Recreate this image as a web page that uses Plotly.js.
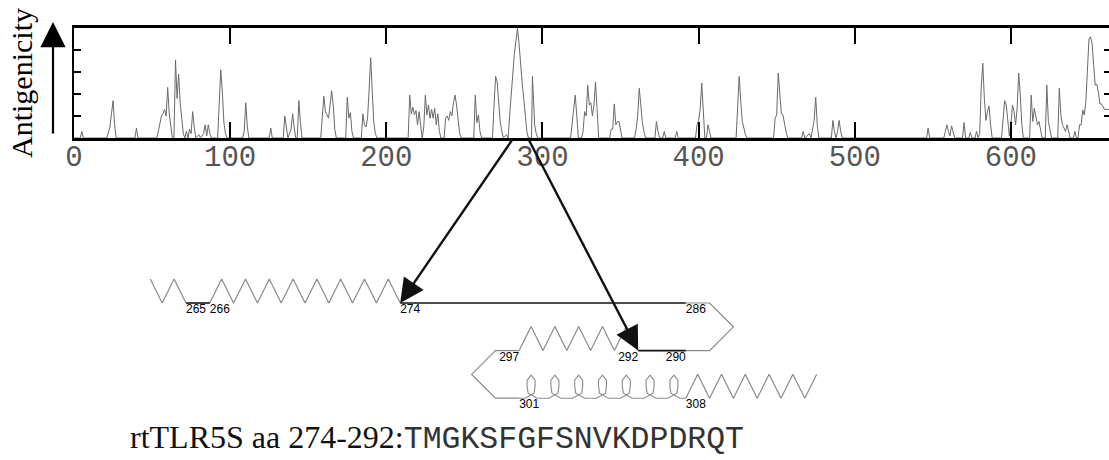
<!DOCTYPE html>
<html><head><meta charset="utf-8">
<script src="https://cdn.plot.ly/plotly-3.0.1.min.js"></script>
<style>html,body{margin:0;padding:0;overflow:hidden;background:#fff}#chart{width:1111px;height:460px}</style>
</head><body><div id="chart"></div>
<script>
// ---------------- DATA ----------------
// Antigenicity profile of rtTLR5S (vertices)
const residue = [
 0,4,5,6,
 21,23,24,25,26,27,
 39,40,41,
 53,54,55,56,57,58,59,60,61,62,63,
 64,65,66,67,68,69,70,71,
 72,73,74,75,76,77,78,
 80,81,83,84,85,86,87,88,
 92,93,94,95,96,97,98,
 108,109,110,111,112,
 125,126,127,
 134,135,136,137,139,140,141,142,143,144,145,146,
 158,159,160,161,162,163,164,165,166,167,168,
 174,175,176,177,178,179,
 184,185,186,187,188,189,190,191,192,193,194,
 214,215,216,217,218,219,220,221,222,223,224,225,226,227,228,229,230,231,232,233,234,235,
 237,238,239,240,241,242,243,244,245,246,247,248,
 256,257,258,259,260,261,
 268,269,270,271,272,273,274,275,277,278,
 279,280,281,282,283,284,285,286,287,288,289,290,291,
 293,293.6,294.5,295,296,297,
 318,319,320,321,322,323,
 325,326,327,328,329,330,331,332,333,334,335,336,
 343,344,345,346,347,348,349,350,351,
 359,360,361,362,363,364,365,366,
 372,373,374,375,
 377,378,379,
 385,386,387,
 398,399,400,401,402,403,404,405,406,407,408,
 424,425,426,427,428,429,430,431,
 448,449,450,451,452,453,454,455,456,457,
 466,467,468,471,472,474,475,476,477,
 485,486,487,488,489,490,491,492,
 546,547,548,
 557,558,559,560,561,562,563,564,
 569,570,571,573,574,575,577,578,579,
 580,581,582,583,584,585,586,587,588,
 594,595,596,597,598,599,600,601,602,603,604,605,606,607,608,
 612,613,614,615,616,617,618,619,620,
 622,623,624,625,626,
 630,631,632,633,634,635,636,637,638,
 640,641,642,643,
 644,645,646,647,648,649,650,651,652,653,654,655,656,657,658,660,663
];
const antigenicity = [
 0,0,0.3,0,
 0,0.5,1.1,1.7,0.6,0,
 0,0.45,0,
 0,0.3,0.7,1.0,1.1,1.3,1.0,2.3,1.1,0.5,0,
 0,3.55,1.8,2.9,1.6,0.8,0.2,0,
 0.3,0,0.4,0.2,1.2,0.5,0,
 0.15,0,0.2,0.6,0.1,0.6,0.2,0,
 0,1.3,3.1,2.1,0.7,0.2,0,
 0,0.3,1.6,0.5,0,
 0,0.45,0,
 0,1.0,0.5,0,0.4,1.1,0.5,0,0,1.7,0.7,0,
 0,1.0,1.9,1.2,1.0,0.9,1.5,2.15,1.5,0.4,0,
 0,1.85,0.9,1.15,0.3,0,
 0,1.1,0.6,0.5,0.9,2.2,3.65,2.1,0.7,0.2,0,
 0,1.95,1.1,1.4,1.05,1.25,0.6,1.2,0.6,0,0.5,1.95,1.05,1.5,0.9,1.3,0.9,1.35,0.6,1.1,0.3,0,
 0,0.9,1.0,0.8,1.2,1.0,1.6,1.95,1.5,0.9,0.2,0,
 0,1.95,0.7,1.05,0.3,0,
 0,1.5,2.8,2.55,1.5,0.7,0.3,0,0.15,0,
 1.05,2.1,3.2,3.8,4.4,5.0,4.3,3.2,2.5,1.8,1.05,0.3,0,
 0,2.8,1.6,0.6,0.2,0,
 0,0.6,1.2,1.95,1.0,0,
 0,0.3,1.2,1.0,2.4,1.5,1.6,1.0,1.5,2.55,1.3,0,
 0,0.4,0.4,1.55,0.6,0.75,0.75,0.3,0,
 0,0.4,1.0,2.26,1.5,0.7,0.3,0,
 0,0.75,0.3,0,
 0,0.3,0,
 0,0.3,0,
 0,0.6,0.8,1.3,2.5,1.2,0,0,0.6,0.3,0,
 0,1.65,2.8,1.65,0.75,0.45,0.15,0,
 0,0.9,1.05,2.95,1.95,1.1,1.05,0.6,0.3,0,
 0,0.3,0,0.2,0,0.8,1.85,0.6,0,
 0,0.8,0.3,0,0.3,0.8,0.3,0,
 0,0.45,0,
 0,0.3,0.6,0.3,0.1,0.55,0.2,0,
 0,0.7,0,0,0.25,0,0,0.3,0,
 0.2,2.3,3.4,1.8,0.8,1.2,1.45,0.6,0,
 0,0.9,1.7,1.5,0.6,0.1,0.6,1.5,1.2,0.6,1.35,2.95,1.95,0.6,0,
 0,1.95,0.75,1.35,1.05,0.6,0.75,0.3,0,
 0,2.4,0.75,0.3,0,
 0,2.26,1.05,0.6,0.45,0.3,0.6,0.3,0,
 0,0.3,0,0,
 0.6,0.6,1.27,1.05,1.65,3.3,4.5,4.6,4.3,3.3,2.4,2.45,2.1,1.55,1.55,1.3,1.3
];
const xTickVals = [0,100,200,300,400,500,600];
const xTickText = ['0','100','200','300','400','500','600'];
const yTickVals = [1,2,3,4];
const yTitle = 'Antigenicity';

// Secondary structure around the epitope (residue ranges)
const helixSegments = [[263.5,265],[266,274],[292,297],[308,313.5]];
const darkCoilSegments = [[265,266],[274,286],[290,292]];
const greyCoilSegments = [[286,290],[297,301]];
const loopSegments = [[301,308]];
const labelResidues = [265,266,274,286,290,292,297,301,308];
const arrowFromProfile = [281,291];
const arrowToStructure = [274,292];
const peptideLabel = 'rtTLR5S aa 274-292:';
const peptideSeq = 'TMGKSFGFSNVKDPDRQT';

// ---------------- LAYOUT HELPERS ----------------
const W = 1111, H = 460, L = 74, PT = 28, PB = 138;
const pxPerRes = 1.5615;
const xMax = (W - L) / pxPerRes;
const S = {x0: 186, r0: 265, y0: 303, d: 23.8, amp: 24};
const xA = S.x0 + (287 - S.r0) * S.d;   // end of first row
const xB = xA - (298 - 289) * S.d;      // end of second row
function pos(r) {
  const d = S.d;
  if (r <= 287) return [S.x0 + (r - S.r0) * d, S.y0];
  if (r <= 288) { const t = r - 287; return [xA + t * d, S.y0 + t * d]; }
  if (r <= 289) { const t = r - 288; return [xA + d - t * d, S.y0 + d + t * d]; }
  if (r <= 298) return [xA - (r - 289) * d, S.y0 + 2 * d];
  if (r <= 299) { const t = r - 298; return [xB - t * d, S.y0 + 2 * d + t * d]; }
  if (r <= 300) { const t = r - 299; return [xB - d + t * d, S.y0 + 3 * d + t * d]; }
  return [xB + (r - 300) * d, S.y0 + 4 * d];
}
function coilPath(a, b) {
  const xs = [], ys = [];
  const pts = [a];
  for (let k = Math.floor(a) + 1; k < b; k++) pts.push(k);
  pts.push(b);
  pts.forEach(r => { const p = pos(r); xs.push(p[0]); ys.push(p[1]); });
  return [xs, ys];
}
function helixPath(a, b) {
  const xs = [], ys = [];
  for (let t = a; t <= b + 1e-6; t += 0.5) {
    const p = pos(t);
    const half = Math.abs((t % 1) - 0.5) < 1e-6;
    xs.push(p[0]); ys.push(p[1] - (half ? S.amp : 0));
  }
  return [xs, ys];
}
const loopTpl = [[-11.9,0],[-6,0],[3,-5],[4,-12],[4,-18],[0,-23],[-4,-18],[-4,-12],[-3,-5],[6,0],[11.9,0]];
function loopPath(a, b) {
  const xs = [], ys = [];
  for (let r = a; r < b; r++) {
    const c = pos(r + 0.5);
    loopTpl.forEach(o => { xs.push(c[0] + o[0]); ys.push(c[1] + o[1]); });
    xs.push(null); ys.push(null);
  }
  return [xs, ys];
}
function segTrace(segs, fn, color, width) {
  let xs = [], ys = [];
  segs.forEach(s => { const [x, y] = fn(s[0], s[1]); xs = xs.concat(x, [null]); ys = ys.concat(y, [null]); });
  return {type: 'scatter', mode: 'lines', x: xs, y: ys, xaxis: 'x2', yaxis: 'y2',
          line: {color: color, width: width}, hoverinfo: 'skip', showlegend: false, connectgaps: false};
}

const GREY = '#8a8a8a', DARK = '#111111';
const traces = [
  {type: 'scatter', mode: 'lines', x: residue, y: antigenicity, xaxis: 'x', yaxis: 'y',
   line: {color: '#6a6a6a', width: 1}, showlegend: false, hoverinfo: 'x+y'},
  segTrace(helixSegments, helixPath, GREY, 1.2),
  segTrace(greyCoilSegments, coilPath, GREY, 1.2),
  segTrace(loopSegments, loopPath, GREY, 1.1),
  segTrace(darkCoilSegments, coilPath, DARK, 1.6),
  {type: 'scatter', mode: 'text', xaxis: 'x2', yaxis: 'y2',
   x: labelResidues.map(r => pos(r)[0]), y: labelResidues.map(r => pos(r)[1] + 1),
   text: labelResidues.map(String),
   textposition: labelResidues.map(r => (r >= 289 && r <= 298) ? 'bottom left' : 'bottom right'),
   textfont: {family: 'Liberation Sans, Arial, sans-serif', size: 12, color: '#000'},
   showlegend: false, hoverinfo: 'skip'}
];

const annotations = arrowFromProfile.map((rf, i) => {
  const tip = pos(arrowToStructure[i]);
  return {xref: 'x2', yref: 'y2', axref: 'x2', ayref: 'y2',
          x: tip[0], y: tip[1], ax: L + rf * pxPerRes, ay: PB + 1,
          text: '', showarrow: true, arrowhead: 2, arrowsize: 2, arrowwidth: 2.4, arrowcolor: '#111'};
});
// arrow next to the y-axis title
annotations.push({xref: 'paper', yref: 'paper', x: (53 - L) / (W - L), y: 1 - 22 / H,
  ax: 0, ay: 113, text: '', showarrow: true, arrowhead: 2, arrowsize: 2.3, arrowwidth: 2.2, arrowcolor: '#000'});
// peptide sequence caption
annotations.push({xref: 'paper', yref: 'paper', x: (128 - L) / (W - L), y: 1 - 438 / H,
  xanchor: 'left', yanchor: 'middle', showarrow: false,
  text: '<span style="font-family:Liberation Serif;font-size:32px">' + peptideLabel + '</span>' +
        '<span style="font-family:Liberation Mono;font-size:31.5px;fill:#333">' + peptideSeq + '</span>',
  font: {color: '#111', size: 30, family: 'Liberation Serif'}});

const layout = {
  width: W, height: H,
  margin: {l: L, r: 0, t: 0, b: 0, pad: 0},
  paper_bgcolor: '#fff', plot_bgcolor: '#fff',
  showlegend: false,
  xaxis: {domain: [0, 1], range: [0, xMax], anchor: 'y',
    tickmode: 'array', tickvals: xTickVals, ticktext: xTickText,
    ticks: 'inside', ticklen: 16, tickwidth: 2, tickcolor: '#000',
    showline: true, linecolor: '#000', linewidth: 3, mirror: 'ticks',
    showgrid: false, zeroline: false, ticklabelstandoff: -10,
    tickfont: {family: 'Liberation Mono, Courier New, monospace', size: 29, color: '#555'}},
  yaxis: {domain: [1 - PB / H, 1 - PT / H], range: [0, 5], anchor: 'x',
    tickmode: 'array', tickvals: yTickVals, showticklabels: false,
    ticks: 'inside', ticklen: 7, tickwidth: 2.5, tickcolor: '#000',
    showline: true, linecolor: '#000', linewidth: 2, mirror: 'ticks',
    showgrid: false, zeroline: false,
    title: {text: yTitle, standoff: 31, font: {family: 'Liberation Serif, Times New Roman, serif', size: 30, color: '#000'}}},
  xaxis2: {domain: [0, 1], range: [L, W], anchor: 'y2', visible: false, fixedrange: true},
  yaxis2: {domain: [0, 1 - PB / H], range: [H, PB], anchor: 'x2', visible: false, fixedrange: true},
  annotations: annotations
};

Plotly.newPlot('chart', traces, layout, {staticPlot: true, displayModeBar: false});
</script></body></html>
